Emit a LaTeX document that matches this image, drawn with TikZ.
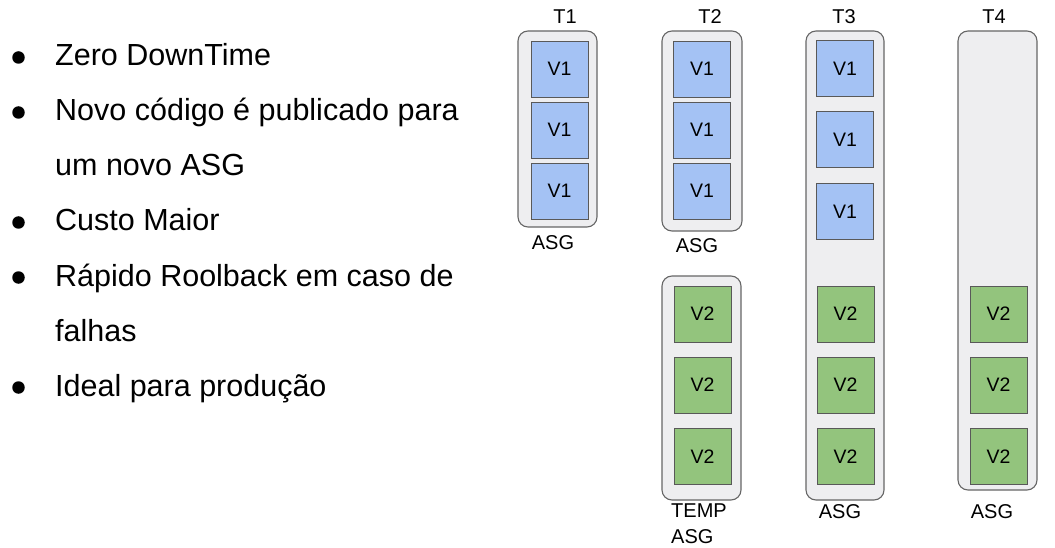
\documentclass[tikz,border=0pt]{standalone}
\usepackage{fontspec}
\setmainfont{Liberation Sans}
\definecolor{contfill}{HTML}{EEEEF0}
\definecolor{contline}{HTML}{666666}
\definecolor{vonefill}{HTML}{A4C2F4}
\definecolor{vtwofill}{HTML}{93C47D}
\definecolor{boxline}{HTML}{595959}
\tikzset{
  container/.style={draw=contline, fill=contfill, line width=1.1pt, rounded corners=10pt, inner sep=0pt},
  vbox/.style={draw=boxline, line width=0.9pt, minimum width=57pt, minimum height=56pt, inner sep=0pt, font=\fontsize{19.5}{22}\selectfont},
  vone/.style={vbox, fill=vonefill},
  vtwo/.style={vbox, fill=vtwofill},
  small/.style={font=\fontsize{20}{26}\selectfont, inner sep=0pt},
  bigtxt/.style={font=\fontsize{30.5}{36}\selectfont, inner sep=0pt, anchor=base west},
  bulletdot/.style={circle, fill=black, inner sep=0pt, minimum size=12.5pt}
}
\begin{document}
\begin{tikzpicture}[x=1pt, y=-1pt]
\useasboundingbox (0,0) rectangle (1055,548);
% bullet list
\node[bulletdot] (b1) at (18.5,57.5) {};
\node[bulletdot] (b2) at (18.5,112.5) {};
\node[bulletdot] (b3) at (18.5,222.5) {};
\node[bulletdot] (b4) at (18.5,277.5) {};
\node[bulletdot] (b5) at (18.5,387.5) {};
\node[bigtxt] (l1) at (55,66) {Zero DownTime};
\node[bigtxt] (l2) at (55,121) {Novo código é publicado para};
\node[bigtxt] (l3) at (55,176) {um novo ASG};
\node[bigtxt] (l4) at (55,231) {Custo Maior};
\node[bigtxt] (l5) at (55,286) {Rápido Roolback em caso de};
\node[bigtxt] (l6) at (55,341) {falhas};
\node[bigtxt] (l7) at (55,396) {Ideal para produção};
% containers
\node[container, minimum width=79pt, minimum height=196pt] (c1) at (557.5,129) {};
\node[container, minimum width=80pt, minimum height=200pt] (c2) at (702,131) {};
\node[container, minimum width=79pt, minimum height=224pt] (ctemp) at (701.5,388) {};
\node[container, minimum width=78pt, minimum height=469pt] (c3) at (845,265.5) {};
\node[container, minimum width=79pt, minimum height=459pt] (c4) at (997.5,260.5) {};
% time labels
\node[small, anchor=base] (t1) at (565,24) {T1};
\node[small, anchor=base] (t2) at (710,24) {T2};
\node[small, anchor=base] (t3) at (844,24) {T3};
\node[small, anchor=base] (t4) at (994,24) {T4};
% T1
\node[vone] (a1) at (559.5,69) {V1};
\node[vone] (a2) at (559.5,130) {V1};
\node[vone] (a3) at (559.5,191) {V1};
% T2
\node[vone] (b1v) at (702,69) {V1};
\node[vone] (b2v) at (702,130) {V1};
\node[vone] (b3v) at (702,191) {V1};
\node[vtwo] (b4v) at (702.5,314) {V2};
\node[vtwo] (b5v) at (702.5,385) {V2};
\node[vtwo] (b6v) at (702.5,456.5) {V2};
% T3
\node[vone] (c1v) at (845,68.5) {V1};
\node[vone] (c2v) at (845,139.5) {V1};
\node[vone] (c3v) at (845,211.5) {V1};
\node[vtwo] (c4v) at (845.5,314) {V2};
\node[vtwo] (c5v) at (845.5,385) {V2};
\node[vtwo] (c6v) at (845.5,456.5) {V2};
% T4
\node[vtwo] (d4v) at (998.5,314) {V2};
\node[vtwo] (d5v) at (998.5,385) {V2};
\node[vtwo] (d6v) at (998.5,456.5) {V2};
% ASG labels
\node[small, anchor=base] (g1) at (553,250) {ASG};
\node[small, anchor=base] (g2) at (697,252) {ASG};
\node[small, anchor=north west, align=left] (gtemp) at (671,503.5) {TEMP\\ASG};
\node[small, anchor=base] (g3) at (840,518) {ASG};
\node[small, anchor=base] (g4) at (992,518) {ASG};
\end{tikzpicture}
\end{document}
